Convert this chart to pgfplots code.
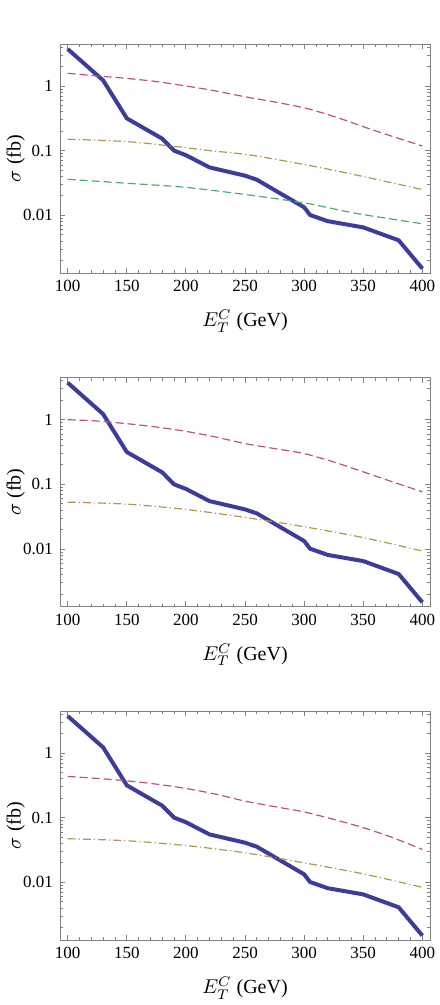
\documentclass[border=0pt]{standalone}
\usepackage{fontspec}
\setmainfont{Liberation Serif}
\usepackage{pgfplots}
\pgfplotsset{compat=1.18}

\definecolor{mblue}{rgb}{0.24,0.24,0.6}
\definecolor{mred}{rgb}{0.72,0.32,0.52}
\definecolor{molive}{rgb}{0.68,0.6,0.3}
\definecolor{mgreen}{rgb}{0.3,0.68,0.42}

\pgfplotsset{
  etpanel/.style={
    anchor=south west,
    scale only axis,
    width=185pt, height=114.5pt,
    xmin=93.5, xmax=406.5,
    ymin=0.00128, ymax=4.46,
    xtick={100,150,...,400},
    minor x tick num=4,
    ytick={0.01,0.1,1},
    yticklabels={0.01,0.1,1},
    minor ytick={0.002,0.003,0.004,0.005,0.006,0.007,0.008,0.009,
                 0.02,0.03,0.04,0.05,0.06,0.07,0.08,0.09,
                 0.2,0.3,0.4,0.5,0.6,0.7,0.8,0.9,2,3,4},
    tick align=inside,
    axis line style={gray},
    tick style={gray, line width=0.4pt},
    major tick length=2.6pt,
    minor tick length=1.4pt,
    /pgf/number format/assume math mode=true,
    ticklabel style={font=\fontsize{8.5}{10}\selectfont},
    label style={font=\fontsize{11.5}{13}\selectfont},
    every axis x label/.style={at={(axis description cs:0.5,-0.21)}, anchor=center},
    every axis y label/.style={at={(axis description cs:-0.12,0.5)}, rotate=90, anchor=center},
    xlabel={$E_T^C$ (GeV)},
    ylabel={$\sigma$ (fb)},
  },
}
\tikzset{
  sigline/.style={mblue, line width=2pt, line join=round},
  bgaline/.style={mred, line width=0.6pt, smooth, dash pattern=on 4pt off 2pt},
  bgbline/.style={molive, line width=0.6pt, smooth, dash pattern=on 4pt off 1.5pt on 0.6pt off 1.5pt},
  bgcline/.style={mgreen, line width=0.6pt, smooth, dash pattern=on 4pt off 2pt},
}

\pgfplotstableread{
x y
100 3.73
130 1.22
150 0.316
180 0.153
190 0.100
200 0.085
220 0.055
250 0.041
260 0.0355
300 0.0133
305 0.0101
320 0.0081
350 0.0065
380 0.0041
400 0.0015
}\signal

\begin{document}
\begin{tikzpicture}
\useasboundingbox (0,0) rectangle (219.5pt,502.5pt);

% top panel
\begin{semilogyaxis}[etpanel, at={(30pt,366pt)}]
\addplot[sigline] table {\signal};
\addplot[bgaline] coordinates {(100,1.57) (125,1.43) (150,1.31) (175,1.17) (194,1.04) (220,0.87) (254,0.66) (274,0.57) (302,0.45) (330,0.316) (358,0.209) (400,0.118)};
\addplot[bgbline] coordinates {(100,0.150) (150,0.138) (187,0.118) (220,0.100) (254,0.0857) (302,0.060) (344,0.042) (400,0.025)};
\addplot[bgcline] coordinates {(100,0.036) (150,0.0313) (200,0.027) (254,0.0205) (302,0.0153) (344,0.0107) (400,0.0074)};
\end{semilogyaxis}

% middle panel
\begin{semilogyaxis}[etpanel, at={(30pt,199.15pt)}]
\addplot[sigline] table {\signal};
\addplot[bgaline] coordinates {(100,1.0) (125,0.954) (150,0.867) (175,0.77) (200,0.66) (225,0.54) (250,0.427) (275,0.357) (300,0.299) (325,0.222) (350,0.156) (375,0.109) (400,0.0766)};
\addplot[bgbline] coordinates {(100,0.053) (150,0.0494) (200,0.0409) (250,0.0308) (300,0.0221) (350,0.015) (400,0.0093)};
\end{semilogyaxis}

% bottom panel
\begin{semilogyaxis}[etpanel, at={(30pt,32.5pt)}]
\addplot[sigline] table {\signal};
\addplot[bgaline] coordinates {(100,0.434) (125,0.404) (150,0.371) (175,0.33) (200,0.283) (225,0.231) (250,0.18) (275,0.148) (300,0.1225) (325,0.094) (350,0.07) (375,0.049) (400,0.0322)};
\addplot[bgbline] coordinates {(100,0.0472) (150,0.0439) (200,0.037) (250,0.0286) (300,0.020) (350,0.0135) (400,0.00835)};
\end{semilogyaxis}
\end{tikzpicture}
\end{document}
